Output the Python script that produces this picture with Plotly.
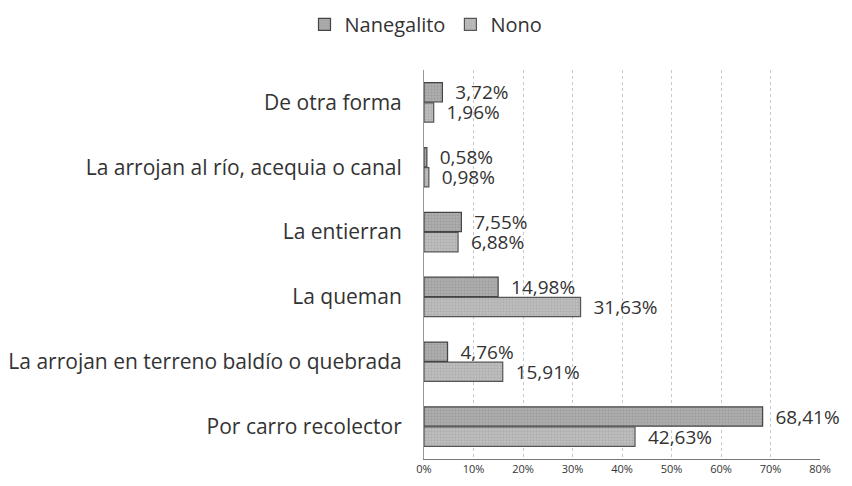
import plotly.graph_objects as go

categories = ["Por carro recolector", "La arrojan en terreno baldío o quebrada", "La queman",
              "La entierran", "La arrojan al río, acequia o canal", "De otra forma"]
nanegalito = [68.41, 4.76, 14.98, 7.55, 0.58, 3.72]
nono = [42.63, 15.91, 31.63, 6.88, 0.98, 1.96]
x_ticks = [0, 10, 20, 30, 40, 50, 60, 70, 80]
x_tick_labels = [f"{t}%" for t in x_ticks]

NB = "\u00a0"

def fmt(v):
    return NB * 2 + f"{v:.2f}%".replace(".", ",")

fig = go.Figure()
fig.add_trace(go.Bar(
    y=categories, x=nono, name="Nono", orientation="h",
    marker=dict(color="#bdbdbd", line=dict(color="#555555", width=1.2),
                pattern=dict(shape=".", fgcolor="#9a9a9a", size=3, solidity=0.3)),
    text=[fmt(v) for v in nono], textposition="outside", constraintext="none",
    textfont=dict(size=19, color="#333333"), cliponaxis=False,
))
fig.add_trace(go.Bar(
    y=categories, x=nanegalito, name="Nanegalito", orientation="h",
    marker=dict(color="#afafaf", line=dict(color="#444444", width=1.2),
                pattern=dict(shape=".", fgcolor="#888888", size=3, solidity=0.4)),
    text=[fmt(v) for v in nanegalito], textposition="outside", constraintext="none",
    textfont=dict(size=19, color="#333333"), cliponaxis=False,
))

fig.update_layout(
    width=852, height=486,
    paper_bgcolor="white", plot_bgcolor="white",
    margin=dict(l=424, r=32, t=70, b=27),
    barmode="group", bargap=0.38, bargroupgap=0.04,
    font=dict(family="Open Sans, DejaVu Sans, sans-serif", color="#333333"),
    legend=dict(orientation="h", x=0.5, xanchor="center", xref="container",
                y=0.99, yanchor="top", yref="container", traceorder="reversed",
                font=dict(size=20, color="#333333")),
    showlegend=True,
)
fig.update_xaxes(range=[0, 80], tickvals=x_ticks, ticktext=x_tick_labels,
                 showgrid=True, gridcolor="#c8c8c8", griddash="dot", gridwidth=1,
                 showline=True, linecolor="#777777", linewidth=1, automargin=False,
                 tickfont=dict(size=11, color="#333333"), zeroline=False, fixedrange=True)
fig.update_yaxes(categoryorder="array", categoryarray=categories, automargin=False,
                 showline=True, linecolor="#999999", linewidth=1,
                 tickfont=dict(size=21, color="#333333"), ticks="", ticklabelstandoff=17)

fig.write_html("out.html", post_script="document.body.style.margin='0';",
               config={"displayModeBar": False})
